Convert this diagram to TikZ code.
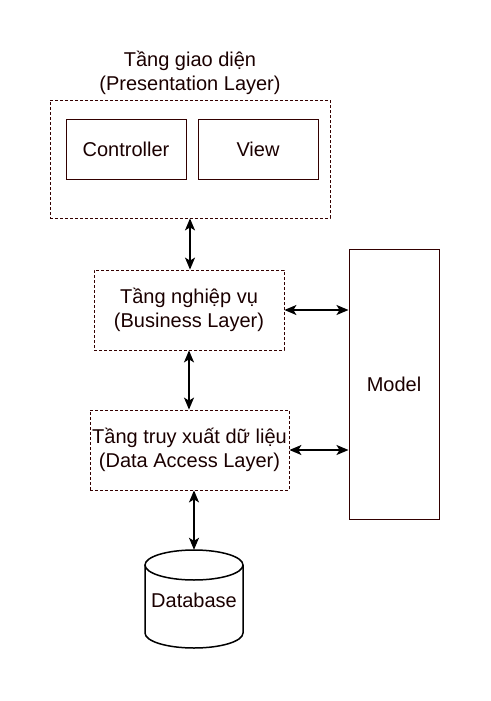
\documentclass[tikz,border=0pt]{standalone}
\usepackage{fontspec}
\setmainfont{Liberation Sans}
\usetikzlibrary{arrows.meta}
\definecolor{brd}{HTML}{330000}
\definecolor{txt}{HTML}{1A0000}
\begin{document}
\begin{tikzpicture}[x=1pt,y=-1pt,
  every node/.style={font=\fontsize{20}{24}\selectfont, text=txt, align=center, inner sep=0pt},
  layerbox/.style={draw=brd, line width=0.8pt, dash pattern=on 3pt off 2pt},
  solidbox/.style={draw=brd, line width=1pt},
  arr/.style={{Stealth[length=12pt,width=10pt,inset=3pt]}-{Stealth[length=12pt,width=10pt,inset=3pt]}, line width=1.5pt, black}]
\useasboundingbox (0,0) rectangle (490,701);
% presentation layer
\node (ptitle) at (190,73) {Tầng giao diện\\(Presentation Layer)};
\node[layerbox, minimum width=280pt, minimum height=118pt] (pres) at (190,159) {};
\node[solidbox, minimum width=120pt, minimum height=60pt] (ctrl) at (126,149) {Controller};
\node[solidbox, minimum width=120pt, minimum height=60pt] (view) at (258,149) {View};
% business
\node[layerbox, minimum width=190pt, minimum height=80pt] (bl) at (189,310) {Tầng nghiệp vụ\\(Business Layer)};
% data access
\node[layerbox, minimum width=199pt, minimum height=80pt] (da) at (189.5,450) {Tầng truy xuất dữ liệu\\(Data Access Layer)};
% model
\node[solidbox, minimum width=90pt, minimum height=270pt] (model) at (394,384) {Model};
% database
\draw[black, line width=1.5pt] (145,565) -- (145,633) arc[start angle=180, end angle=360, x radius=49, y radius=-15] -- (243,565);
\draw[black, line width=1.5pt] (194,565) ellipse[x radius=49, y radius=15];
\node[minimum width=98pt, minimum height=98pt] (db) at (194,599) {};
\node at (194,600) (dbtext) {Database};
% connectors
\draw[arr] (pres.south) -- (bl.north -| pres.south);
\draw[arr] (bl.south) -- (bl.south |- da.north);
\draw[arr] (db.north |- da.south) -- (db.north);
\draw[arr] (bl.east) -- (bl.east -| model.west);
\draw[arr] (da.east) -- (da.east -| model.west);
\end{tikzpicture}
\end{document}
